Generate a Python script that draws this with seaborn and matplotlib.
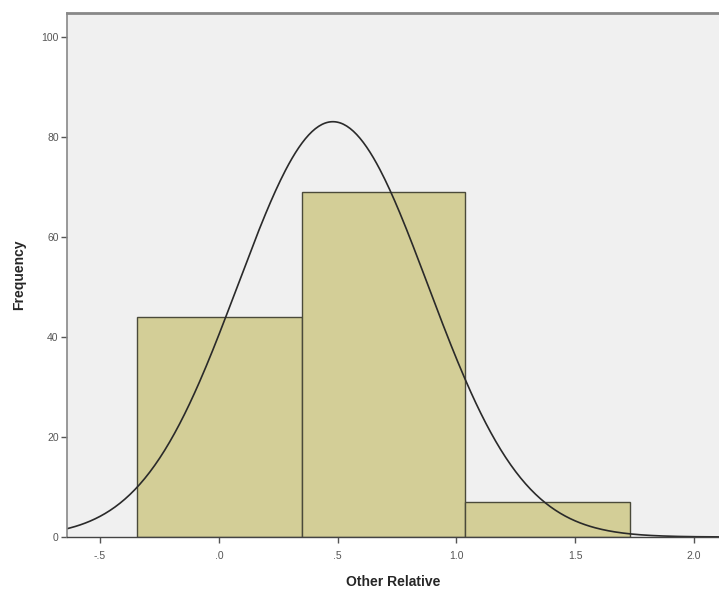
import numpy as np
import pandas as pd
import matplotlib
matplotlib.use("Agg")
import matplotlib.pyplot as plt
import seaborn as sns

# Histogram bins and counts
bin_edges = [-0.345, 0.349, 1.038, 1.731]
counts = [44, 69, 7]

# Fitted normal curve parameters
mean_val = 0.48
sd_val = 0.40

x_ticks = [-0.5, 0.0, 0.5, 1.0, 1.5, 2.0]
x_tick_labels = ["-.5", ".0", ".5", "1.0", "1.5", "2.0"]
y_ticks = [0, 20, 40, 60, 80, 100]

sns.set_style("white")
plt.rcParams["font.family"] = ["Liberation Sans", "DejaVu Sans"]

fig = plt.figure(figsize=(7.19, 5.95), dpi=100)
ax = fig.add_axes([67 / 719, 1 - 537 / 595, 1 - 67 / 719, (537 - 13) / 595])
ax.set_facecolor("#F0F0F0")

centers = [(bin_edges[i] + bin_edges[i + 1]) / 2 for i in range(len(counts))]
df = pd.DataFrame({"value": centers, "count": counts})
sns.histplot(data=df, x="value", weights="count", bins=bin_edges, ax=ax,
             color="#D3CE97", alpha=1.0, edgecolor="#4A4A3A", linewidth=1.0)

# Normal curve scaled to counts
n_total = sum(counts)
bw = bin_edges[1] - bin_edges[0]
xs = np.linspace(-0.66, 2.12, 400)
ys = n_total * bw * np.exp(-0.5 * ((xs - mean_val) / sd_val) ** 2) / (sd_val * np.sqrt(2 * np.pi))
sns.lineplot(x=xs, y=ys, ax=ax, color="#2A2A2A", linewidth=1.2)

ax.set_xlim(-0.639, 2.105)
ax.set_ylim(0, 104.8)
ax.set_xticks(x_ticks)
ax.set_xticklabels(x_tick_labels)
ax.set_yticks(y_ticks)
ax.tick_params(axis="both", bottom=True, left=True, labelsize=7.5,
               labelcolor="#555555", color="#555555",
               length=4, width=1, direction="out", pad=2)
ax.tick_params(axis="x", pad=6)

for side in ["left", "top", "right"]:
    ax.spines[side].set_color("#888888")
ax.spines["left"].set_linewidth(1.2)
ax.spines["top"].set_linewidth(2.0)
ax.spines["right"].set_visible(False)
ax.spines["bottom"].set_color("#444444")
ax.spines["bottom"].set_linewidth(1.0)

ax.set_xlabel("Other Relative", fontsize=10, fontweight="bold", labelpad=10)
ax.set_ylabel("Frequency", fontsize=10, fontweight="bold", labelpad=11)

fig.savefig("out.png", dpi=100)
